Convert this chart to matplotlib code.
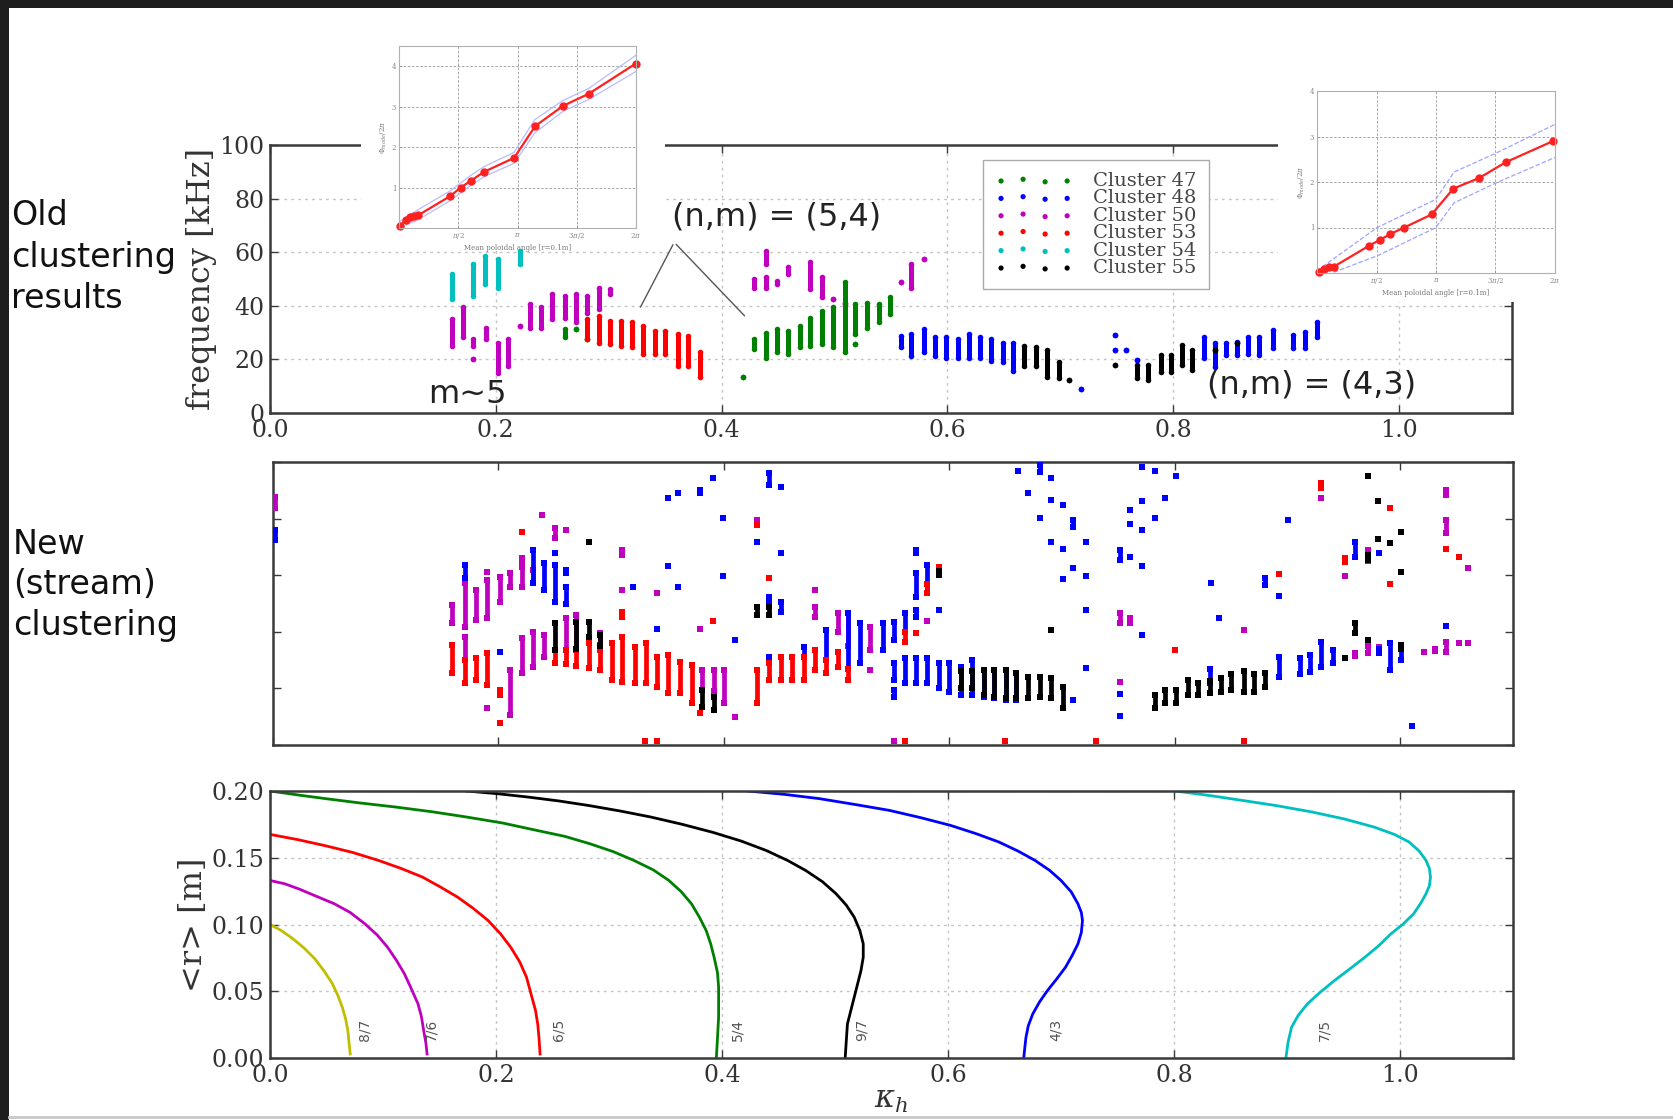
import matplotlib
matplotlib.use("Agg")
import matplotlib.pyplot as plt
from matplotlib.patches import Rectangle
from matplotlib.lines import Line2D
import numpy as np

plt.rcParams['font.family'] = ['DejaVu Serif']
plt.rcParams['mathtext.fontset'] = 'dejavuserif'

# ---------------- old clustering (top panel): stripes (kappa, f_low, f_high) ----------------
k54 = [0.161, 0.180, 0.190, 0.202, 0.221]
lo54 = [42.5, 43.7, 48.1, 46.8, 55.5]
hi54 = [51.8, 55.5, 58.7, 57.4, 60.5]

k50 = [0.161, 0.171, 0.180, 0.180, 0.191, 0.202, 0.211, 0.221, 0.230, 0.240, 0.250, 0.261, 0.271, 0.281,
       0.291, 0.301, 0.429, 0.439, 0.439, 0.449, 0.459, 0.478, 0.489, 0.499, 0.509, 0.559, 0.568, 0.579]
lo50 = [25.1, 28.2, 25.1, 20.3, 27.6, 15.1, 17.6, 32.5, 31.9, 31.9, 35.0, 35.6, 33.8, 37.5,
        38.8, 44.4, 46.8, 55.5, 46.8, 48.1, 51.8, 46.2, 43.1, 42.5, 40.6, 48.7, 46.8, 57.4]
hi50 = [35.0, 39.4, 27.6, 20.3, 31.9, 26.3, 27.6, 32.5, 40.6, 39.4, 44.4, 43.7, 44.4, 43.7,
        46.8, 46.2, 50.0, 60.5, 50.6, 49.3, 54.3, 56.2, 50.6, 42.5, 41.2, 48.7, 55.5, 57.4]

k47 = [0.261, 0.271, 0.281, 0.419, 0.429, 0.439, 0.449, 0.459, 0.469, 0.478, 0.489, 0.499, 0.509,
       0.518, 0.518, 0.529, 0.539, 0.549]
lo47 = [28.2, 31.3, 27.6, 13.3, 23.8, 20.7, 22.6, 22.0, 24.5, 25.1, 25.7, 24.5, 22.6, 29.4, 25.7, 31.9, 33.8, 36.9]
hi47 = [31.3, 31.3, 27.6, 13.3, 27.6, 30.0, 31.3, 30.7, 32.5, 35.6, 38.1, 39.4, 48.7, 40.6, 25.7, 41.2, 40.6, 43.1]

k53 = [0.281, 0.291, 0.301, 0.311, 0.321, 0.330, 0.341, 0.350, 0.361, 0.370, 0.381]
lo53 = [27.6, 26.3, 25.7, 25.1, 24.5, 22.0, 22.0, 22.0, 17.6, 17.6, 13.3]
hi53 = [35.0, 36.3, 34.4, 34.4, 33.8, 32.5, 30.7, 30.7, 29.4, 28.8, 22.6]

k48 = [0.559, 0.568, 0.579, 0.589, 0.599, 0.609, 0.619, 0.629, 0.639, 0.649, 0.658, 0.718, 0.748, 0.748,
       0.758, 0.768, 0.827, 0.837, 0.847, 0.856, 0.866, 0.876, 0.888, 0.906, 0.917, 0.927]
lo48 = [24.5, 21.3, 22.6, 21.3, 20.7, 20.7, 20.7, 20.7, 19.5, 18.9, 15.7, 8.8, 29.1, 23.5,
        23.5, 19.8, 20.4, 17.3, 21.6, 21.6, 22.2, 21.6, 24.1, 24.1, 24.1, 28.5]
hi48 = [28.8, 29.4, 31.3, 28.2, 28.2, 27.6, 29.4, 28.2, 27.6, 26.3, 26.3, 8.8, 29.1, 23.5,
        23.5, 19.8, 28.5, 26.0, 26.0, 26.6, 28.5, 28.5, 31.0, 29.1, 30.4, 34.0]

k55 = [0.668, 0.678, 0.688, 0.699, 0.708, 0.748, 0.768, 0.778, 0.789, 0.798, 0.808, 0.817, 0.837, 0.856]
lo55 = [17.6, 17.6, 13.6, 13.0, 12.3, 17.9, 13.0, 12.3, 15.4, 15.4, 17.9, 16.0, 23.5, 26.0]
hi55 = [25.1, 24.5, 23.6, 19.2, 12.3, 17.9, 17.9, 17.9, 21.6, 21.6, 25.3, 23.5, 23.5, 26.0]

cluster_names = ['Cluster 47', 'Cluster 48', 'Cluster 50', 'Cluster 53', 'Cluster 54', 'Cluster 55']

# ---------------- new (stream) clustering (middle panel) ----------------
mid_mag = [(0.002, 83.6, 87.8), (0.159, 43.0, 49.5), (0.170, 41.8, 57.1), (0.180, 44.2, 54.8), (0.190, 44.8, 58.3),
           (0.190, 61.2, 61.2), (0.201, 50.6, 59.5), (0.210, 55.9, 60.7), (0.221, 55.9, 63.0), (0.221, 64.8, 66.0),
           (0.231, 57.1, 61.8), (0.239, 81.3, 81.3), (0.250, 73.0, 76.6), (0.260, 76.0, 76.0), (0.310, 67.1, 68.9),
           (0.310, 54.8, 54.8), (0.341, 53.6, 53.6), (0.379, 40.9, 40.9), (0.481, 54.8, 54.8), (0.481, 45.3, 48.9),
           (0.429, 79.5, 79.5), (0.170, 30.0, 38.3), (0.190, 13.0, 13.0), (0.210, 10.6, 26.5), (0.221, 25.3, 37.7),
           (0.231, 27.7, 40.0), (0.240, 31.2, 38.9), (0.260, 33.6, 45.0), (0.269, 34.0, 46.0), (0.290, 33.6, 39.5),
           (0.381, 19.4, 26.5), (0.391, 19.0, 26.5), (0.400, 14.7, 26.5), (0.410, 10.0, 10.0), (0.501, 40.0, 46.5),
           (0.510, 35.0, 46.5), (0.530, 33.6, 41.8), (0.530, 26.5, 26.5), (0.580, 43.9, 43.9), (0.551, 1.5, 1.5),
           (0.751, 43.0, 46.5), (0.760, 43.0, 45.0), (0.751, 22.4, 22.4), (0.861, 40.6, 40.6), (0.960, 31.5, 32.5),
           (0.971, 32.5, 35.0), (0.981, 33.5, 34.5), (1.021, 33.0, 33.0), (1.031, 33.2, 33.8), (1.041, 33.0, 36.5),
           (1.052, 36.2, 36.2), (1.060, 36.2, 36.2), (0.930, 87.2, 87.2), (0.951, 59.7, 59.7), (0.971, 65.0, 68.9),
           (1.041, 88.3, 90.1), (1.041, 74.8, 79.5), (1.060, 62.4, 62.4)]

mid_blue = [(0.002, 72.4, 76.0), (0.170, 58.9, 63.6), (0.201, 33.0, 33.0), (0.231, 57.1, 68.9), (0.240, 54.8, 64.2),
            (0.250, 67.7, 67.7), (0.250, 50.6, 63.6), (0.260, 50.0, 55.9), (0.260, 60.7, 61.8), (0.319, 55.9, 55.9),
            (0.350, 87.2, 87.2), (0.359, 88.9, 88.9), (0.379, 88.9, 90.1), (0.390, 94.2, 94.2), (0.350, 63.4, 63.4),
            (0.359, 55.7, 55.7), (0.341, 40.9, 40.9), (0.399, 80.1, 80.1), (0.399, 59.7, 59.7), (0.410, 37.1, 37.1),
            (0.440, 91.9, 96.0), (0.451, 91.0, 91.0), (0.429, 71.8, 71.8), (0.451, 67.7, 67.7), (0.440, 50.1, 52.4),
            (0.451, 47.1, 50.6), (0.440, 29.5, 31.0), (0.471, 31.0, 34.7), (0.491, 30.0, 40.6), (0.510, 27.0, 46.5),
            (0.521, 28.9, 43.0), (0.541, 33.6, 43.0), (0.551, 37.1, 43.6), (0.561, 40.0, 46.5), (0.570, 67.7, 68.9),
            (0.570, 52.4, 60.7), (0.570, 45.3, 47.7), (0.580, 53.6, 63.6), (0.591, 47.7, 47.7),
            (0.551, 17.1, 19.4), (0.551, 23.0, 28.9), (0.561, 21.8, 30.6), (0.570, 21.8, 30.6), (0.580, 21.8, 30.6),
            (0.591, 20.0, 28.9), (0.600, 18.8, 28.9), (0.610, 17.5, 27.7), (0.620, 17.5, 30.0), (0.631, 17.1, 26.5),
            (0.640, 16.5, 26.5), (0.650, 15.9, 26.5), (0.659, 15.9, 25.3), (0.710, 15.9, 15.9), (0.721, 27.1, 27.1),
            (0.721, 47.7, 47.7), (0.661, 96.9, 96.9), (0.680, 96.6, 99.0), (0.690, 94.2, 94.2), (0.670, 88.9, 88.9),
            (0.690, 86.6, 86.6), (0.701, 84.8, 84.8), (0.680, 80.1, 80.1), (0.710, 77.1, 79.5), (0.690, 71.8, 71.8),
            (0.721, 71.8, 71.8), (0.701, 69.1, 69.1), (0.710, 62.4, 62.4), (0.701, 58.5, 58.5), (0.721, 59.7, 59.7),
            (0.771, 98.1, 98.1), (0.782, 96.9, 96.9), (0.801, 95.1, 95.1), (0.791, 87.2, 87.2), (0.771, 86.3, 86.3),
            (0.760, 83.0, 83.0), (0.782, 80.1, 80.1), (0.760, 78.1, 78.1), (0.771, 76.0, 76.0), (0.751, 65.4, 68.9),
            (0.760, 66.5, 66.5), (0.771, 63.3, 63.3), (0.771, 38.9, 38.9), (0.751, 18.0, 18.0), (0.751, 10.2, 10.2),
            (0.831, 22.0, 27.0), (0.892, 24.1, 31.2), (0.911, 25.0, 30.6), (0.920, 25.8, 31.8), (0.930, 27.7, 36.5),
            (0.940, 28.9, 33.6), (0.981, 32.5, 33.8), (0.991, 26.5, 35.9), (1.001, 30.0, 34.0), (0.900, 79.5, 79.5),
            (0.832, 57.1, 57.1), (0.839, 44.8, 44.8), (0.880, 56.5, 58.9), (0.892, 52.8, 52.8), (0.960, 66.5, 71.8),
            (0.981, 67.7, 67.7), (1.041, 42.0, 42.0), (1.010, 6.7, 6.7)]

mid_red = [(0.159, 25.3, 35.3), (0.170, 22.0, 30.0), (0.180, 23.0, 30.6), (0.190, 21.2, 32.4), (0.201, 17.7, 19.4),
           (0.201, 7.7, 7.7), (0.221, 75.4, 75.4), (0.250, 28.9, 33.6), (0.260, 28.5, 33.6), (0.269, 28.0, 33.6),
           (0.280, 27.1, 35.9), (0.290, 26.5, 35.3), (0.301, 23.0, 35.9), (0.310, 22.4, 38.3), (0.321, 21.8, 34.7),
           (0.331, 21.8, 35.9), (0.341, 20.6, 31.2), (0.350, 18.3, 31.8), (0.361, 18.3, 29.4), (0.372, 14.7, 28.3),
           (0.379, 11.2, 11.2), (0.390, 43.9, 43.9), (0.310, 45.4, 47.0), (0.429, 14.7, 26.5), (0.429, 77.7, 77.7),
           (0.440, 23.0, 29.0), (0.440, 58.9, 58.9), (0.451, 23.0, 31.2), (0.460, 23.0, 31.2), (0.471, 23.0, 31.0),
           (0.481, 26.5, 33.6), (0.491, 25.3, 30.0), (0.501, 27.7, 33.0), (0.510, 23.0, 27.0), (0.561, 36.5, 40.0),
           (0.570, 39.5, 39.5), (0.580, 53.6, 57.0), (0.591, 60.1, 63.0), (0.800, 33.6, 33.6), (0.892, 60.4, 60.4),
           (0.930, 90.7, 92.5), (0.991, 83.6, 83.6), (0.991, 56.9, 56.9), (1.041, 69.1, 69.1), (1.052, 66.5, 66.5),
           (0.951, 64.8, 66.0), (0.330, 1.5, 1.5), (0.341, 1.5, 1.5), (0.561, 1.5, 1.5), (0.649, 1.5, 1.5),
           (0.730, 1.5, 1.5), (0.861, 1.5, 1.5)]

mid_black = [(0.250, 33.6, 43.0), (0.269, 34.0, 43.6), (0.280, 38.3, 43.6), (0.280, 71.8, 71.8), (0.290, 35.0, 39.0),
             (0.429, 45.9, 48.9), (0.440, 45.9, 48.9), (0.381, 13.5, 19.4), (0.391, 12.4, 17.0), (0.591, 60.1, 61.5),
             (0.610, 20.0, 26.0), (0.620, 20.0, 26.0), (0.631, 17.5, 26.5), (0.640, 17.0, 26.5), (0.650, 16.5, 26.5),
             (0.659, 16.5, 25.5), (0.670, 16.5, 24.1), (0.680, 17.0, 24.1), (0.690, 16.5, 23.6), (0.701, 13.0, 20.6),
             (0.690, 40.6, 40.6), (0.782, 13.0, 17.7), (0.791, 14.7, 19.4), (0.801, 15.0, 19.4), (0.812, 17.7, 23.0),
             (0.821, 17.7, 22.0), (0.831, 18.5, 22.5), (0.841, 18.8, 23.5), (0.850, 19.4, 25.0), (0.861, 18.8, 26.0),
             (0.870, 18.8, 25.0), (0.880, 20.5, 25.5), (0.951, 30.6, 30.6), (0.960, 39.5, 43.0), (0.971, 37.1, 37.1),
             (0.971, 95.1, 95.1), (0.980, 86.3, 86.3), (1.001, 75.4, 75.4), (0.980, 72.7, 72.7), (0.991, 71.5, 71.5),
             (0.971, 65.5, 67.0), (1.001, 61.2, 61.2), (1.001, 34.0, 35.5)]

# ---------------- resonance curves (bottom panel) ----------------
k_87 = [0.0, 0.010, 0.020, 0.030, 0.040, 0.048, 0.055, 0.060, 0.064, 0.067, 0.069, 0.070, 0.071]
r_87 = [0.100, 0.0955, 0.0895, 0.0825, 0.074, 0.065, 0.056, 0.047, 0.038, 0.029, 0.020, 0.011, 0.003]
k_76 = [0.0, 0.013, 0.026, 0.040, 0.057, 0.071, 0.084, 0.095, 0.104, 0.112, 0.119, 0.125, 0.131, 0.134,
        0.136, 0.138, 0.139]
r_76 = [0.133, 0.1305, 0.1265, 0.1215, 0.1155, 0.109, 0.1005, 0.092, 0.083, 0.073, 0.063, 0.052, 0.0405, 0.031,
        0.0205, 0.011, 0.003]
k_65 = [0.0, 0.025, 0.049, 0.073, 0.096, 0.116, 0.135, 0.151, 0.166, 0.180, 0.193, 0.204, 0.213, 0.221, 0.227,
        0.231, 0.235, 0.237, 0.238, 0.239]
r_65 = [0.1675, 0.1635, 0.159, 0.154, 0.148, 0.142, 0.1355, 0.128, 0.1205, 0.112, 0.103, 0.093, 0.083, 0.072,
        0.0605, 0.048, 0.0355, 0.025, 0.0155, 0.003]
k_54 = [0.0, 0.025, 0.049, 0.080, 0.111, 0.143, 0.174, 0.206, 0.236, 0.261, 0.283, 0.304, 0.322, 0.339, 0.353,
        0.364, 0.373, 0.380, 0.386, 0.390, 0.393, 0.396, 0.397, 0.397, 0.396, 0.395]
r_54 = [0.2, 0.197, 0.1943, 0.191, 0.188, 0.1845, 0.1805, 0.176, 0.1705, 0.166, 0.1605, 0.1545, 0.148, 0.141,
        0.133, 0.1245, 0.1155, 0.1055, 0.0955, 0.0855, 0.0755, 0.064, 0.053, 0.0305, 0.015, 0.0]
k_97 = [0.174, 0.201, 0.228, 0.256, 0.283, 0.310, 0.337, 0.365, 0.392, 0.417, 0.439, 0.458, 0.474, 0.489, 0.501,
        0.510, 0.517, 0.522, 0.525, 0.525, 0.523, 0.520, 0.517, 0.514, 0.511, 0.510, 0.509]
r_97 = [0.2, 0.198, 0.1955, 0.1925, 0.189, 0.185, 0.1805, 0.175, 0.169, 0.1625, 0.1555, 0.148, 0.1405, 0.132,
        0.123, 0.1145, 0.1055, 0.0955, 0.0855, 0.0755, 0.0655, 0.0555, 0.0455, 0.0355, 0.0255, 0.013, 0.0]
k_43 = [0.423, 0.455, 0.486, 0.517, 0.548, 0.576, 0.602, 0.625, 0.645, 0.662, 0.677, 0.690, 0.700, 0.709, 0.715,
        0.718, 0.719, 0.718, 0.715, 0.710, 0.704, 0.696, 0.688, 0.681, 0.675, 0.671, 0.669, 0.668, 0.667]
r_43 = [0.2, 0.1975, 0.1943, 0.190, 0.1855, 0.180, 0.1743, 0.168, 0.1618, 0.155, 0.148, 0.1405, 0.133, 0.1245,
        0.1155, 0.109, 0.103, 0.094, 0.0855, 0.077, 0.068, 0.059, 0.0505, 0.042, 0.033, 0.024, 0.0155, 0.008, 0.0]
k_75 = [0.801, 0.830, 0.860, 0.891, 0.922, 0.951, 0.977, 0.995, 1.008, 1.017, 1.023, 1.026, 1.027, 1.026, 1.023,
        1.018, 1.012, 1.003, 0.992, 0.981, 0.969, 0.956, 0.942, 0.929, 0.918, 0.910, 0.904, 0.901, 0.899]
r_75 = [0.2, 0.1968, 0.193, 0.189, 0.1843, 0.179, 0.173, 0.1675, 0.1618, 0.155, 0.148, 0.142, 0.1355, 0.129,
        0.123, 0.1155, 0.108, 0.1005, 0.093, 0.084, 0.0755, 0.067, 0.058, 0.049, 0.0405, 0.032, 0.023, 0.012, 0.0]
res_labels = ['8/7', '7/6', '6/5', '5/4', '9/7', '4/3', '7/5']

# ---------------- phase insets ----------------
in1_theta = [0.018, 0.180, 0.287, 0.395, 0.512, 1.364, 1.634, 1.903, 2.262, 3.052, 3.608, 4.344, 5.027, 6.28]
in1_phase = [0.042, 0.208, 0.275, 0.300, 0.317, 0.792, 1.0, 1.167, 1.392, 1.733, 2.517, 3.017, 3.317, 4.067]
in1_band_theta = [0.0, 0.5, 1.36, 1.9, 2.26, 3.05, 3.6, 4.34, 5.03, 6.28]
in1_band_hi = [0.15, 0.45, 0.92, 1.30, 1.52, 1.87, 2.68, 3.15, 3.45, 4.27]
in1_band_lo = [0.0, 0.20, 0.68, 1.05, 1.27, 1.60, 2.35, 2.88, 3.18, 3.87]

in2_theta = [0.044, 0.176, 0.309, 0.441, 1.368, 1.659, 1.924, 2.294, 3.027, 3.600, 4.280, 4.986, 6.239]
in2_phase = [0.015, 0.087, 0.124, 0.138, 0.596, 0.727, 0.851, 0.996, 1.287, 1.855, 2.087, 2.436, 2.902]
in2_hi_theta = [0.0, 1.589, 3.133, 3.618, 4.721, 6.28]
in2_band_hi = [0.05, 1.0, 1.615, 2.218, 2.633, 3.265]
in2_lo_theta = [0.441, 1.589, 3.133, 3.618, 4.721, 6.28]
in2_band_lo = [0.015, 0.378, 0.996, 1.542, 1.978, 2.538]

C_G, C_B, C_M, C_R, C_C, C_K, C_Y = '#008000', '#0000ff', '#bf00bf', '#ff0000', '#00bfbf', '#000000', '#bfbf00'
SPINE = '#3a3a3a'
GRID = dict(color='#c4c4c4', linestyle=(0, (2, 3)), linewidth=1.0)

W, H = 1674, 1120
fig = plt.figure(figsize=(W / 100, H / 100), dpi=100)
fig.patch.set_facecolor('white')


def style_axes(ax):
    for s in ax.spines.values():
        s.set_color(SPINE)
        s.set_linewidth(1.8)
    ax.tick_params(direction='in', top=True, right=True, length=6, width=1, colors=SPINE,
                   labelcolor='#333333', labelsize=17, pad=4)


def stripes(ax, k, lo, hi, color, lw=3.6, ms=16, marker='o'):
    ax.vlines(k, lo, hi, color=color, lw=lw, zorder=3)
    ax.scatter(k, lo, s=ms, color=color, marker=marker, lw=0, zorder=3)
    ax.scatter(k, hi, s=ms, color=color, marker=marker, lw=0, zorder=3)


# ---------- top panel ----------
ax1 = fig.add_axes([270 / W, 1 - 413 / H, 1242 / W, 268 / H])
style_axes(ax1)
ax1.set_xlim(0, 1.1)
ax1.set_ylim(0, 100)
ax1.set_xticks(np.arange(0, 1.01, 0.2))
ax1.set_xticklabels(['0.0', '0.2', '0.4', '0.6', '0.8', '1.0'])
ax1.set_yticks(np.arange(0, 101, 20))
ax1.grid(True, **GRID)
ax1.set_ylabel('frequency [kHz]', fontsize=23, color='#333333', labelpad=2)

stripes(ax1, k54, lo54, hi54, C_C)
stripes(ax1, k50, lo50, hi50, C_M)
stripes(ax1, k47, lo47, hi47, C_G)
stripes(ax1, k53, lo53, hi53, C_R)
stripes(ax1, k48, lo48, hi48, C_B)
stripes(ax1, k55, lo55, hi55, C_K)

handles = [ax1.scatter([], [], s=14, color=c, lw=0) for c in [C_G, C_B, C_M, C_R, C_C, C_K]]
leg = ax1.legend(handles, cluster_names, scatterpoints=4, loc='upper right', bbox_to_anchor=(0.756, 0.944),
                 borderaxespad=0, fontsize=14, handlelength=4.0, handletextpad=1.05, labelspacing=-0.03,
                 borderpad=0.62, fancybox=False, framealpha=1, edgecolor='#aaaaaa')
for t in leg.get_texts():
    t.set_color('#444444')

ax1.text(0.356, 73.3, '(n,m) = (5,4)', fontsize=23, family='DejaVu Sans', color='#222222', va='center', zorder=5)
ax1.text(0.830, 10.4, '(n,m) = (4,3)', fontsize=23, family='DejaVu Sans', color='#222222', va='center', zorder=5)
ax1.text(0.175, 6.8, 'm~5', fontsize=23, family='DejaVu Sans', color='#222222', va='center', ha='center', zorder=5)
ax1.annotate('', xy=(0.327, 38.6), xytext=(0.358, 63.7), arrowprops=dict(arrowstyle='-', color='#555555', lw=1))
ax1.annotate('', xy=(0.422, 35.5), xytext=(0.358, 63.7), arrowprops=dict(arrowstyle='-', color='#555555', lw=1))

# ---------- middle panel ----------
ax2 = fig.add_axes([273 / W, 1 - 745 / H, 1240 / W, 283 / H])
style_axes(ax2)
ax2.set_xlim(0, 1.1)
ax2.set_ylim(0, 100)
ax2.set_xticks(np.arange(0, 1.01, 0.2))
ax2.set_yticks(np.arange(0, 101, 20))
ax2.tick_params(labelbottom=False, labelleft=False)
for data, col in [(mid_mag, C_M), (mid_blue, C_B), (mid_red, C_R), (mid_black, C_K)]:
    k = [d[0] for d in data]
    lo = [d[1] for d in data]
    hi = [d[2] for d in data]
    stripes(ax2, k, lo, hi, col, lw=3.4, ms=14, marker='s')

# ---------- bottom panel ----------
ax3 = fig.add_axes([270 / W, 1 - 1058 / H, 1243 / W, 267 / H])
style_axes(ax3)
ax3.set_xlim(0, 1.1)
ax3.set_ylim(0, 0.2)
ax3.set_xticks(np.arange(0, 1.01, 0.2))
ax3.set_xticklabels(['0.0', '0.2', '0.4', '0.6', '0.8', '1.0'])
ax3.set_yticks([0, 0.05, 0.10, 0.15, 0.20])
ax3.set_yticklabels(['0.00', '0.05', '0.10', '0.15', '0.20'])
ax3.grid(True, **GRID)
ax3.set_ylabel('<r> [m]', fontsize=23, color='#333333', labelpad=2)
ax3.set_xlabel(r'$\kappa_h$', fontsize=22, color='#333333', labelpad=-2)

curves = [(k_87, r_87, C_Y), (k_76, r_76, C_M), (k_65, r_65, C_R), (k_54, r_54, C_G),
          (k_97, r_97, C_K), (k_43, r_43, C_B), (k_75, r_75, C_C)]
label_k = [0.084, 0.143, 0.255, 0.414, 0.524, 0.695, 0.933]
for (k, r, c), lab, lk in zip(curves, res_labels, label_k):
    ax3.plot(k, r, color=c, lw=2.0, solid_joinstyle='round')
    ax3.text(lk, 0.021, lab, rotation=90, fontsize=10, family='DejaVu Sans', color='#555555',
             ha='center', va='center')

# ---------- white backgrounds of the inset pictures ----------
fig.add_artist(Rectangle((361 / W, 1 - 248 / H), 304 / W, 240 / H, transform=fig.transFigure,
                         facecolor='white', edgecolor='none', zorder=1))
fig.add_artist(Rectangle((1278 / W, 1 - 302 / H), 396 / W, 222 / H, transform=fig.transFigure,
                         facecolor='white', edgecolor='none', zorder=1))


def inset(rect, ymax, yt):
    ax = fig.add_axes(rect)
    ax.set_zorder(2)
    for s in ax.spines.values():
        s.set_color('#b0b0b0')
        s.set_linewidth(0.8)
    ax.set_xlim(0, 2 * np.pi)
    ax.set_ylim(0, ymax)
    ax.set_xticks([np.pi / 2, np.pi, 3 * np.pi / 2, 2 * np.pi])
    ax.set_xticklabels([r'$\pi/2$', r'$\pi$', r'$3\pi/2$', r'$2\pi$'])
    ax.set_yticks(yt)
    ax.set_yticklabels([str(v) for v in yt])
    ax.tick_params(direction='in', length=2, width=0.5, labelsize=5, colors='#888888', pad=2)
    ax.grid(True, color='#999999', linestyle=(0, (3, 2)), linewidth=0.6)
    ax.set_xlabel('Mean poloidal angle [r=0.1m]', fontsize=5, color='#777777', labelpad=2)
    ax.set_ylabel(r'$\Phi_{mode}/2\pi$', fontsize=5, color='#777777', labelpad=2)
    return ax


ins1 = inset([399 / W, 1 - 228 / H, 237 / W, 182 / H], 4.5, [1, 2, 3, 4])
ins1.plot(in1_band_theta, in1_band_hi, color='#b8bcff', lw=0.9)
ins1.plot(in1_band_theta, in1_band_lo, color='#b8bcff', lw=0.9)
ins1.plot(in1_theta, in1_phase, color='#ff2020', lw=1.6, marker='o', ms=5, clip_on=False)

ins2 = inset([1317 / W, 1 - 273 / H, 238 / W, 182 / H], 4.0, [1, 2, 3, 4])
ins2.plot(in2_hi_theta, in2_band_hi, color='#9da3ff', lw=0.9, ls='--')
ins2.plot(in2_lo_theta, in2_band_lo, color='#9da3ff', lw=0.9, ls='--')
ins2.plot(in2_theta, in2_phase, color='#ff2020', lw=1.6, marker='o', ms=5, clip_on=False)

# ---------- slide text and frame ----------
fig.text(11 / W, 1 - 257 / H, 'Old\nclustering\nresults', fontsize=24, family='DejaVu Sans',
         color='#111111', ha='left', va='center', linespacing=1.33)
fig.text(13 / W, 1 - 585 / H, 'New\n(stream)\nclustering', fontsize=24, family='DejaVu Sans',
         color='#111111', ha='left', va='center', linespacing=1.3)

fig.add_artist(Rectangle((0, 1 - 8 / H), 1, 8 / H, transform=fig.transFigure, facecolor='#1e1e1e',
                         edgecolor='none', zorder=10))
fig.add_artist(Rectangle((0, 0), 9 / W, 1, transform=fig.transFigure, facecolor='#1e1e1e',
                         edgecolor='none', zorder=10))
fig.add_artist(Line2D([9 / W, 1], [3 / H, 3 / H], transform=fig.transFigure, color='#c8c8c8', lw=2, zorder=10))

fig.savefig('out.png', dpi=100)
